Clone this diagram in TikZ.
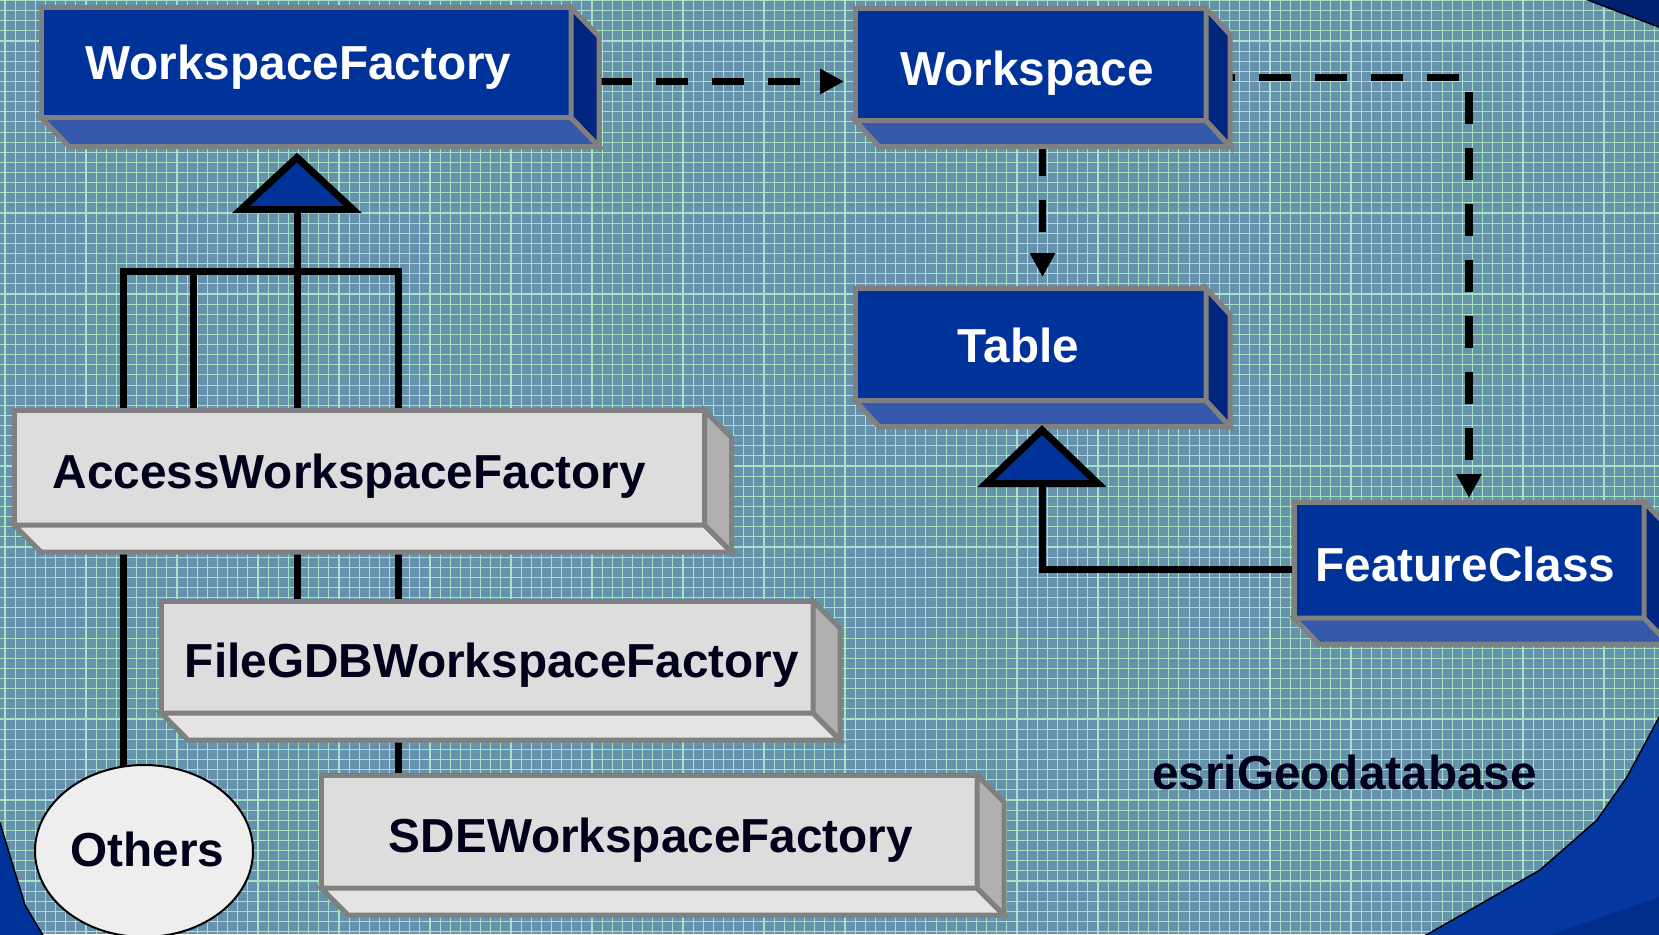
\documentclass[tikz,border=0pt]{standalone}
\usepackage{fontspec}
\setmainfont{Liberation Sans}
\usetikzlibrary{arrows.meta,calc,shapes.geometric}
\pgfdeclarelayer{bg}
\pgfdeclarelayer{conn}
\pgfsetlayers{bg,conn,main}

\definecolor{bgteal}{HTML}{6692AC}
\definecolor{gridmint}{HTML}{A6E2C6}
\definecolor{navyfront}{HTML}{003399}
\definecolor{navybottom}{HTML}{3459AD}
\definecolor{navyside}{HTML}{002680}
\definecolor{greyfront}{HTML}{DDDDDD}
\definecolor{greybottom}{HTML}{E4E4E4}
\definecolor{greyside}{HTML}{B0B0B0}
\definecolor{edgegrey}{HTML}{808080}
\definecolor{inktext}{HTML}{00001A}
\definecolor{swoosh}{HTML}{0537A0}
\definecolor{swooshdark}{HTML}{002C8C}
\definecolor{cornernavy}{HTML}{002070}
\definecolor{ovalfill}{HTML}{EEEEEE}

% bottom and side faces of an extruded class box
\newcommand{\boxdepth}[5]{%
  \filldraw[facepath, fill=#4] (#1.south west) -- ++(#2,#3) -- ($(#1.south east)+(#2,#3)$) -- (#1.south east) -- cycle;
  \filldraw[facepath, fill=#5] (#1.north east) -- ++(#2,#3) -- ($(#1.south east)+(#2,#3)$) -- (#1.south east) -- cycle;
}

\tikzset{
  box/.style={rectangle, draw=edgegrey, line width=5pt, outer sep=0pt, inner sep=0pt, line join=miter},
  bluebox/.style={box, fill=navyfront},
  greybox/.style={box, fill=greyfront},
  facepath/.style={draw=edgegrey, line width=5pt, line join=miter},
  boxlabel/.style={font=\fontsize{47.7pt}{50pt}\selectfont\bfseries, anchor=base, inner sep=0pt},
  whitelabel/.style={boxlabel, text=white},
  darklabel/.style={boxlabel, text=inktext},
  dep/.style={draw=black, line width=7.5pt, dash pattern=on 32pt off 24pt, -{Triangle[length=24pt,width=24pt]}},
  inh/.style={draw=black, line width=7pt, line join=miter},
  inhtri/.style={draw=black, line width=7pt, fill=navyfront, line join=miter},
  gridline/.style={draw=gridmint, line width=1.1pt},
  cornershape/.style={draw=black, line width=1.5pt, line join=round}
}

\begin{document}
\begin{tikzpicture}[x=1pt, y=-1pt]
\useasboundingbox (0,0) rectangle (1659,934);

% ---------- class boxes (text baseline placed from each box centre) ----------
\node[bluebox, minimum width=530pt, minimum height=110pt] (wf) at (306,62.5) {};
\boxdepth{wf}{28}{29}{navybottom}{navyside}
\node[whitelabel] (wftext) at ($(wf.center)+(-7.5,17.5)$) {WorkspaceFactory};

\node[bluebox, minimum width=351pt, minimum height=112pt] (ws) at (1030.5,64.5) {};
\boxdepth{ws}{24}{26}{navybottom}{navyside}
\node[whitelabel] (wstext) at ($(ws.center)+(-3.5,20.5)$) {Workspace};

\node[bluebox, minimum width=351pt, minimum height=112pt] (tab) at (1030.5,344.5) {};
\boxdepth{tab}{24}{26}{navybottom}{navyside}
\node[whitelabel] (tabtext) at ($(tab.center)+(-12,17.5)$) {Table};

\node[bluebox, minimum width=350pt, minimum height=116pt] (fc) at (1469,560) {};
\boxdepth{fc}{25}{26}{navybottom}{navyside}
\node[whitelabel] (fctext) at ($(fc.center)+(-3.5,21)$) {FeatureClass};

\node[greybox, minimum width=690.5pt, minimum height=114.5pt] (acc) at (359.25,467.75) {};
\boxdepth{acc}{27}{27}{greybottom}{greyside}
\node[darklabel] (acctext) at ($(acc.center)+(-10,21)$) {AccessWorkspaceFactory};

\node[greybox, minimum width=652pt, minimum height=112pt] (fgdb) at (487,657) {};
\boxdepth{fgdb}{27}{27}{greybottom}{greyside}
\node[darklabel] (fgdbtext) at ($(fgdb.center)+(5,20)$) {FileGDBWorkspaceFactory};

\node[greybox, minimum width=656pt, minimum height=113pt] (sde) at (649,831.5) {};
\boxdepth{sde}{27}{27}{greybottom}{greyside}
\node[darklabel] (sdetext) at ($(sde.center)+(2,20.5)$) {SDEWorkspaceFactory};

\node[ellipse, draw=black, line width=2pt, fill=ovalfill, minimum width=218pt, minimum height=172pt,
      inner sep=0pt, outer sep=0pt] (oth) at (144,851) {};
\node[darklabel] (othtext) at ($(oth.center)+(3.5,15)$) {Others};

\node[darklabel] (pkg) at (1344.5,789) {esriGeodatabase};

% ---------- generalisation triangles ----------
\filldraw[inhtri] (297,157.5) -- (353,209.5) -- (241,209.5) -- cycle;
\coordinate (tri0) at (297,209.5);
\filldraw[inhtri] (1042,430) -- (1098,483.5) -- (986,483.5) -- cycle;
\coordinate (tri1) at (1042,483.5);

% ---------- connectors ----------
\begin{pgfonlayer}{conn}
  \coordinate (hub)  at (297,271.5);
  \coordinate (colA) at (123,271.5);
  \coordinate (colB) at (193,271.5);
  \coordinate (colD) at (398,271.5);
  \draw[inh] (oth.center -| colA) -- (colA) -- (colD) -- (sde.center -| colD);
  \draw[inh] (acc.center -| colB) -- (colB);
  \draw[inh] (fgdb.center -| hub) -- (hub) -- (tri0);

  \coordinate (d1) at ($(fc.west)+(0,9)$);
  \draw[inh] (d1) -| (tri1);

  \coordinate (a1) at ($(wf.east)+(0,19)$);
  \draw[dep, dash phase=27pt, shorten >=11pt] (a1) -- (a1 -| ws.west);
  \coordinate (b1) at ($(ws.south)+(12,0)$);
  \draw[dep, dash phase=32.5pt, shorten >=11.5pt] (b1) -- (b1 |- tab.north);
  \coordinate (c1) at ($(ws.east)+(0,13)$);
  \draw[dep, dash phase=3pt, shorten >=4pt] (c1) -| (fc.north);
\end{pgfonlayer}

% ---------- backdrop ----------
\begin{pgfonlayer}{bg}
  \fill[bgteal] (0,0) rectangle (1659,934);
  \foreach \k in {0,...,164} \draw[gridline] (\k*10.12+5,0) -- (\k*10.12+5,934);
  \foreach \k in {0,...,92} \draw[gridline] (0,\k*10.12+0.5) -- (1659,\k*10.12+0.5);
  % corner swooshes
  \filldraw[cornershape, fill=cornernavy] (1580,-3) -- (1664,29) -- (1664,-3) -- cycle;
  \filldraw[cornershape, fill=navyfront] (-3,821) -- (0,823) -- (25,905) -- (44,937) -- (-3,937) -- cycle;
  \filldraw[cornershape, fill=swoosh] (1422,937) -- (1428,934) -- (1540,870) -- (1597,820)
      -- (1627,777) -- (1664,708) -- (1664,937) -- cycle;
  \fill[swooshdark] (1545,937) -- (1662,896) -- (1662,937) -- cycle;
\end{pgfonlayer}
\end{tikzpicture}
\end{document}
